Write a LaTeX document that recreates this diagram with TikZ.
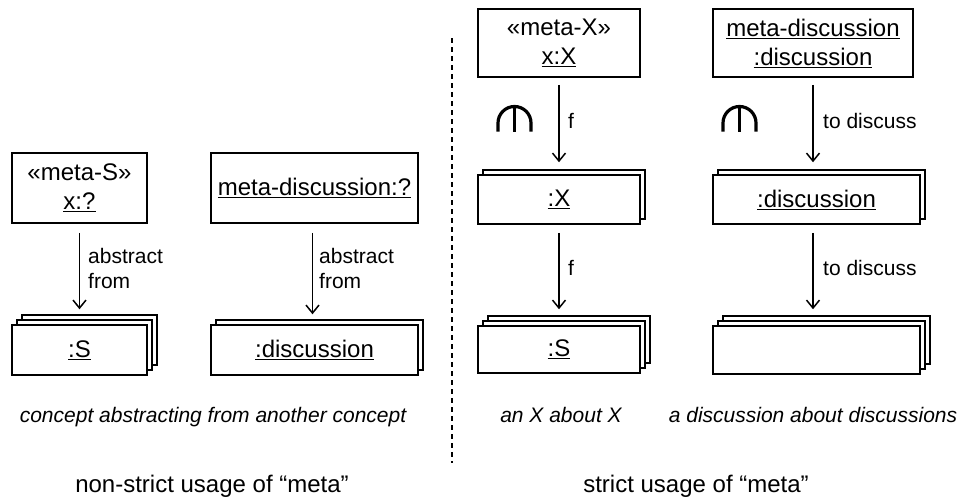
\documentclass[tikz,border=0pt]{standalone}
\usepackage{fontspec}
\setmainfont{Liberation Sans}
\usetikzlibrary{arrows.meta,shadows}
\begin{document}
\begin{tikzpicture}[x=1pt,y=-1pt,
  box/.style={draw,line width=1.5pt,fill=white,inner sep=0pt,align=center,font=\fontsize{24}{29}\selectfont},
  stacktwo/.style={general shadow={shadow scale=1,shadow xshift=5pt,shadow yshift=5pt,draw,fill=white,line width=1.5pt}},
  stackthree/.style={general shadow={shadow scale=1,shadow xshift=10pt,shadow yshift=10pt,draw,fill=white,line width=1.5pt},
                     general shadow={shadow scale=1,shadow xshift=5pt,shadow yshift=5pt,draw,fill=white,line width=1.5pt}},
  arr/.style={-{Straight Barb[length=8pt,width=13pt,line width=1.5pt]},line width=1.5pt},
  lbl/.style={inner sep=0pt,align=left,font=\fontsize{21}{25}\selectfont},
  captext/.style={anchor=base,inner sep=0pt,font=\fontsize{21}{25}\selectfont\itshape},
  ttl/.style={anchor=base,inner sep=0pt,font=\fontsize{24}{29}\selectfont},
  fork/.style={line width=3.2pt},
  sep/.style={line width=1.5pt,dash pattern=on 5pt off 4pt}]

\useasboundingbox[fill=white] (0,0) rectangle (963,499);

% non-strict panel
\node[box,minimum width=135pt,minimum height=70pt] (A1) at (79.5,188) {«meta-S»\\\underline{x:?}};
\node[box,stackthree,minimum width=135pt,minimum height=50pt] (A2) at (79.5,350) {\underline{:S}};
\node[box,minimum width=207pt,minimum height=70pt] (B1) at (314.5,188) {\underline{meta-discussion:?}};
\node[box,stacktwo,minimum width=207pt,minimum height=50pt] (B2) at (314.5,350) {\underline{:discussion}};

\draw[arr] ([yshift=-9pt]A1.south) -- ([yshift=15pt]A2.north);
\draw[arr] ([xshift=-2pt,yshift=-9pt]B1.south) -- ([xshift=-2pt,yshift=10pt]B2.north);
\node[lbl,anchor=west] (LA) at (88,268) {abstract\\from};
\node[lbl,anchor=west] (LB) at (319,268) {abstract\\from};

% strict panel
\node[box,minimum width=162pt,minimum height=68pt] (C1) at (559,43) {«meta-X»\\\underline{x:X}};
\node[box,stacktwo,minimum width=162pt,minimum height=49pt] (C2) at (559,199.5) {\underline{:X}};
\node[box,stackthree,minimum width=162pt,minimum height=47pt] (C3) at (559,349.5) {\underline{:S}};
\node[box,minimum width=200pt,minimum height=68pt] (D1) at (813,43) {\underline{meta-discussion}\\\underline{:discussion}};
\node[box,stacktwo,minimum width=207pt,minimum height=49pt] (D2) at (816.5,199.5) {\underline{:discussion}};
\node[box,stackthree,minimum width=207pt,minimum height=48pt] (D3) at (816.5,350) {};

\draw[arr] ([yshift=-7pt]C1.south) -- ([yshift=12pt]C2.north);
\draw[arr] ([yshift=-8pt]C2.south) -- ([yshift=16pt]C3.north);
\draw[arr] ([yshift=-7pt]D1.south) -- ([yshift=12pt]D1.south |- D2.north);
\draw[arr] ([yshift=-8pt]D1.south |- D2.south) -- ([yshift=16pt]D1.south |- D3.north);

\node[lbl,anchor=base west] (LC1) at (568,128) {f};
\node[lbl,anchor=base west] (LC2) at (568,275) {f};
\node[lbl,anchor=base west] (LD1) at (823,128) {to discuss};
\node[lbl,anchor=base west] (LD2) at (823,275) {to discuss};

% pitchfork symbols
\draw[fork] (498,131.5) -- (498,123) arc[start angle=180,end angle=360,radius=16.5] -- (531,131.5);
\draw[fork] (514.5,106.5) -- (514.5,131.5);
\draw[fork] (723,131.5) -- (723,123) arc[start angle=180,end angle=360,radius=16.5] -- (756,131.5);
\draw[fork] (739.5,106.5) -- (739.5,131.5);

% separator
\coordinate (S1) at (452,38);
\coordinate (S2) at (452,463);
\draw[sep] (S1) -- (S2);

% captions
\node[captext] (K1) at (213,422) {concept abstracting from another concept};
\node[captext] (K2) at (561,422) {an X about X};
\node[captext] (K3) at (813,422) {a discussion about discussions};
\node[ttl] (T1) at (212,492) {non-strict usage of “meta”};
\node[ttl] (T2) at (696,492) {strict usage of “meta”};
\end{tikzpicture}
\end{document}
